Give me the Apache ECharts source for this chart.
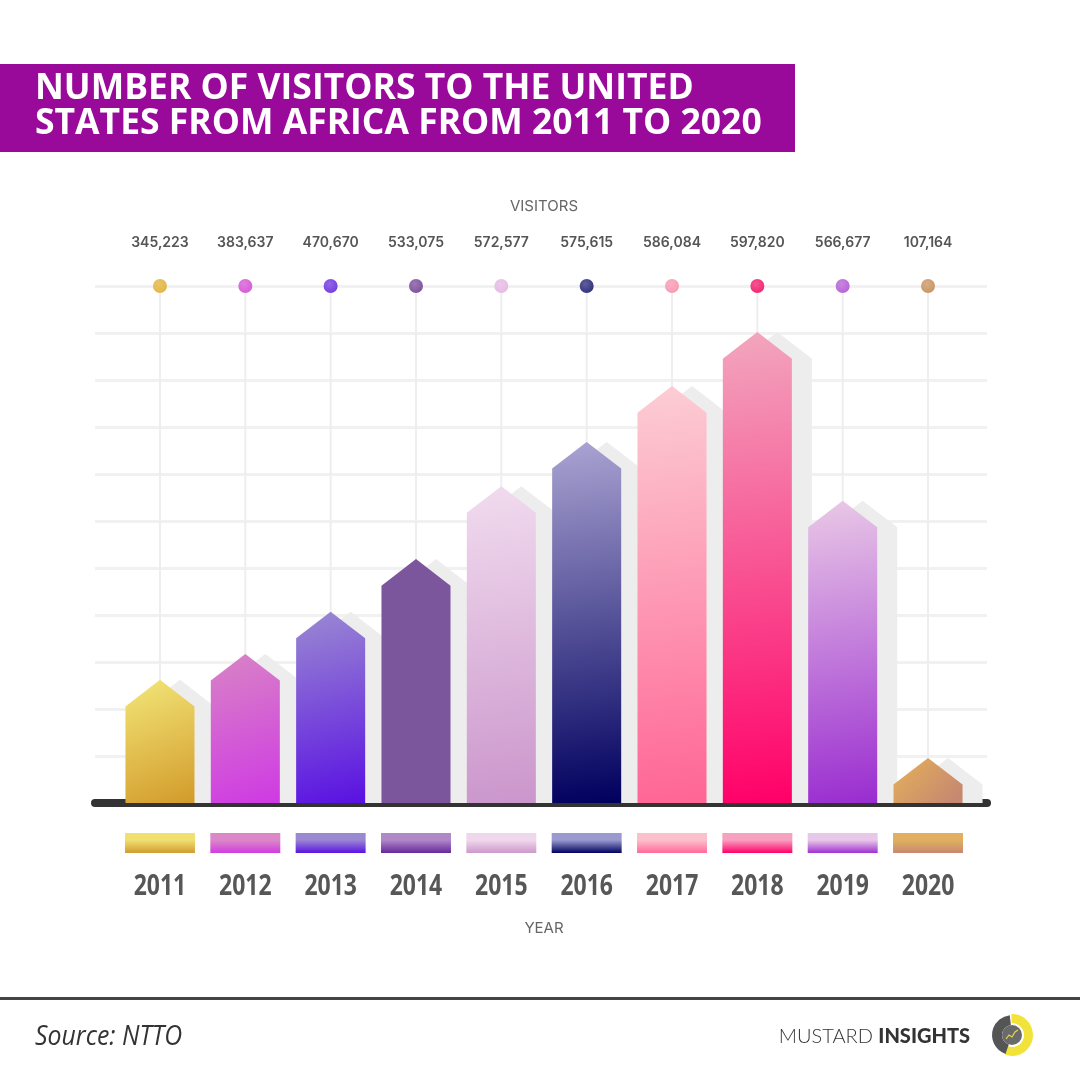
<!DOCTYPE html>
<html>
<head>
<meta charset="utf-8">
<script src="https://cdn.jsdelivr.net/npm/echarts@6/dist/echarts.min.js"></script>
<style>
html,body{margin:0;padding:0;background:#fff;}
#chart{width:1080px;height:1080px;}
</style>
</head>
<body>
<div id="chart"></div>
<script>
// ---- data ----
var years = ['2011','2012','2013','2014','2015','2016','2017','2018','2019','2020'];
var visitors = [345223, 383637, 470670, 533075, 572577, 575615, 586084, 597820, 566677, 107164];
// drawn bar heights, in gridline units (11 gridline steps up to the dot row)
var barHeights = [2.62, 3.17, 4.07, 5.19, 6.74, 7.68, 8.87, 10.02, 6.43, 0.96];
var yTicks = [0, 1, 2, 3, 4, 5, 6, 7, 8, 9, 10, 11];

// ---- palette ----
var barColors = [
  ['#f2e477','#d39d2c'], ['#d882c6','#cf3be3'], ['#9a88d2','#5a12e2'], ['#7c569c','#7c569c'],
  ['#f1dbee','#cb96cc'], ['#aaa3d2','#00005e'], ['#fccdd4','#ff6595'], ['#f2a6be','#ff0068'],
  ['#e9c8e6','#9a2dd0'], ['#e3ad5c','#c68870']
];
var chipColors = [
  ['#f0e070','#d09c30'], ['#dc88c8','#d03ce0'], ['#9a88d2','#5a12e2'], ['#b088c8','#64289a'],
  ['#f0d8ec','#cc98cc'], ['#9a9ad0','#000060'], ['#fcc0cc','#ff6898'], ['#f8a0c0','#ff0068'],
  ['#e8c8e8','#a030d0'], ['#e0b060','#c88870']
];
var dotColors = ['#e2b43c','#d555d5','#6f35e0','#7b4b9b','#e6b8e4','#2a2a7a','#f897b2','#f21e6e','#b45ed6','#c8925e'];

var yMax = yTicks[yTicks.length - 1];
var chart = echarts.init(document.getElementById('chart'), null, {renderer: 'canvas'});

function arrowPoints(x, yb, yt, hw, ah) {
  return [[x - hw, yb], [x - hw, yt + ah], [x, yt], [x + hw, yt + ah], [x + hw, yb]];
}

var seriesData = years.map(function (y, i) { return [i, barHeights[i], visitors[i]]; });

var option = {
  animation: false,
  backgroundColor: '#ffffff',
  grid: [
    {left: 117.3, width: 853.4, top: 286, bottom: 277},
    {left: 95, right: 93, top: 286, bottom: 277}
  ],
  xAxis: [
    {
      type: 'category', gridIndex: 0, data: years,
      axisLine: {show: false}, axisTick: {show: false}, splitLine: {show: false},
      axisLabel: {show: false}
    },
    {
      type: 'value', gridIndex: 1, min: 0, max: 1, offset: 4,
      axisLine: {show: true, lineStyle: {color: '#333333', width: 8}},
      axisTick: {show: false}, axisLabel: {show: false}, splitLine: {show: false}
    }
  ],
  yAxis: [
    {
      type: 'value', gridIndex: 0, min: 0, max: yMax, interval: 1,
      axisLine: {show: false}, axisTick: {show: false}, axisLabel: {show: false}, splitLine: {show: false}
    },
    {
      type: 'value', gridIndex: 1, min: 0, max: yMax, interval: 1,
      axisLine: {show: false}, axisTick: {show: false}, axisLabel: {show: false},
      splitLine: {show: true, lineStyle: {color: '#f1f1f1', width: 3}}
    }
  ],
  series: [
    { // vertical guide lines
      type: 'custom', xAxisIndex: 0, yAxisIndex: 0, data: seriesData, z: 1,
      encode: {x: 0, y: 1},
      renderItem: function (params, api) {
        var t = api.coord([api.value(0), yMax]);
        var b = api.coord([api.value(0), 0]);
        return {type: 'line', shape: {x1: t[0], y1: t[1], x2: b[0], y2: b[1]},
          style: {stroke: '#eeeeee', lineWidth: 2}};
      }
    },
    { // shadows
      type: 'custom', xAxisIndex: 0, yAxisIndex: 0, data: seriesData, z: 2,
      encode: {x: 0, y: 1},
      renderItem: function (params, api) {
        var b = api.coord([api.value(0), 0]);
        var t = api.coord([api.value(0), api.value(1)]);
        var hw = api.size([1, 0])[0] * 0.809 / 2;
        var ah = hw * 0.77;
        return {type: 'polygon', shape: {points: arrowPoints(b[0] + 20, b[1], t[1], hw, ah)},
          style: {fill: '#ededed'}};
      }
    },
    { // bars
      type: 'custom', xAxisIndex: 0, yAxisIndex: 0, data: seriesData, z: 3,
      encode: {x: 0, y: 1},
      renderItem: function (params, api) {
        var i = params.dataIndex;
        var b = api.coord([api.value(0), 0]);
        var t = api.coord([api.value(0), api.value(1)]);
        var hw = api.size([1, 0])[0] * 0.809 / 2;
        var ah = hw * 0.77;
        return {type: 'polygon', shape: {points: arrowPoints(b[0], b[1], t[1], hw, ah)},
          style: {fill: new echarts.graphic.LinearGradient(0.15, 0, 0.85, 1, [
            {offset: 0, color: barColors[i][0]}, {offset: 1, color: barColors[i][1]}])}};
      }
    },
    { // colour chips and year labels under the axis
      type: 'custom', xAxisIndex: 0, yAxisIndex: 0, data: seriesData, z: 3, clip: false,
      encode: {x: 0, y: 1},
      renderItem: function (params, api) {
        var i = params.dataIndex;
        var b = api.coord([api.value(0), 0]);
        var w = api.size([1, 0])[0] * 0.82;
        return {type: 'group', children: [
          {type: 'rect', shape: {x: b[0] - w / 2, y: b[1] + 30, width: w, height: 20},
            style: {fill: new echarts.graphic.LinearGradient(0, 0, 0, 1, [
              {offset: 0, color: chipColors[i][0]}, {offset: 0.35, color: chipColors[i][0]},
              {offset: 1, color: chipColors[i][1]}])}},
          {type: 'text', x: b[0], y: b[1] + 84, scaleX: 0.82,
            style: {text: years[i], align: 'center', verticalAlign: 'middle', fill: '#575757',
              font: 'bold 28px "Open Sans", sans-serif'}}
        ]};
      }
    },
    { // dots and value labels
      type: 'custom', xAxisIndex: 0, yAxisIndex: 0, data: seriesData, z: 4, clip: false,
      encode: {x: 0, y: 1},
      renderItem: function (params, api) {
        var i = params.dataIndex;
        var p = api.coord([api.value(0), yMax]);
        return {type: 'group', children: [
          {type: 'circle', shape: {cx: p[0], cy: p[1], r: 7},
            style: {fill: new echarts.graphic.RadialGradient(0.4, 0.35, 0.8, [
              {offset: 0, color: echarts.color.lift(dotColors[i], 0.25)}, {offset: 1, color: dotColors[i]}])}},
          {type: 'text', x: p[0], y: p[1] - 43,
            style: {text: echarts.format.addCommas(api.value(2)), align: 'center', verticalAlign: 'middle',
              fill: '#555555', font: '600 14px Inter, "Open Sans", sans-serif'}}
        ]};
      }
    }
  ],
  graphic: [
    {type: 'rect', left: 0, top: 64, shape: {width: 795, height: 88}, style: {fill: '#9a0a9a'}},
    {type: 'text', x: 35, y: 89, style: {text: 'NUMBER OF VISITORS TO THE UNITED', fill: '#ffffff',
      font: 'bold 35.5px "Open Sans", sans-serif', verticalAlign: 'middle'}},
    {type: 'text', x: 35, y: 124, style: {text: 'STATES FROM AFRICA FROM 2011 TO 2020', fill: '#ffffff',
      font: 'bold 35.5px "Open Sans", sans-serif', verticalAlign: 'middle'}},
    {type: 'text', x: 544, y: 206, style: {text: 'VISITORS', fill: '#666666', align: 'center', verticalAlign: 'middle',
      font: '15px Inter, sans-serif'}},
    {type: 'text', x: 544, y: 928, style: {text: 'YEAR', fill: '#666666', align: 'center', verticalAlign: 'middle',
      font: '15px Inter, sans-serif'}},
    {type: 'rect', left: 0, top: 997, shape: {width: 1080, height: 3}, style: {fill: '#444444'}},
    {type: 'text', x: 35, y: 1037, scaleX: 0.92, style: {text: 'Source: NTTO', fill: '#333333', verticalAlign: 'middle',
      font: 'italic 27px "Open Sans", sans-serif'}},
    {type: 'text', x: 970, y: 1037, style: {
      text: '{a|MUSTARD }{b|INSIGHTS}', align: 'right', verticalAlign: 'middle',
      rich: {
        a: {fontFamily: 'Lato, sans-serif', fontWeight: 300, fontSize: 20, fill: '#333333'},
        b: {fontFamily: 'Lato, sans-serif', fontWeight: 900, fontSize: 20, fill: '#333333'}
      }}},
    {type: 'group', x: 1012, y: 1035, children: [
      {type: 'sector', shape: {cx: 0, cy: 0, r: 21, r0: 12, startAngle: -1.6, endAngle: 1.9}, style: {fill: '#f1e33a'}},
      {type: 'sector', shape: {cx: 0, cy: 0, r: 20, r0: 10, startAngle: 1.9, endAngle: 4.6}, style: {fill: '#555555'}},
      {type: 'circle', shape: {cx: 0, cy: 0, r: 10}, style: {fill: '#6a6a6a'}},
      {type: 'polyline', shape: {points: [[-6, 4], [-3, 0], [0, 2], [3, -3], [6, -5]]}, style: {stroke: '#e6d84a', lineWidth: 1.2, fill: null}}
    ]}
  ]
};
chart.setOption(option);
</script>
</body>
</html>
